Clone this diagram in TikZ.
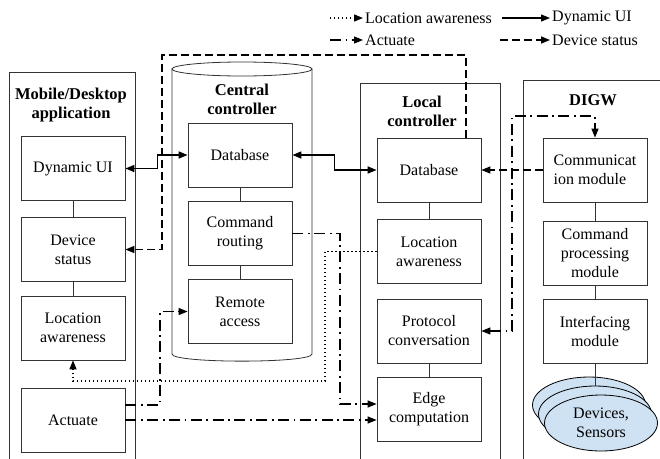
\documentclass[tikz,border=0pt]{standalone}
\usepackage{fontspec}
\setmainfont{Liberation Serif}
\usetikzlibrary{arrows.meta,shapes.geometric,calc}
\begin{document}
\begin{tikzpicture}[x=1pt,y=-1pt,
  font=\fontsize{16}{19}\selectfont,
  >={Triangle[length=9pt,width=7pt]},
  line join=miter,
  box/.style={draw=black!80, line width=0.8pt, minimum width=104pt, minimum height=64pt, inner sep=0pt, align=center},
  panel/.style={draw=black!80, line width=0.8pt},
  ttl/.style={font=\fontsize{16.5}{19}\selectfont\bfseries, align=center, inner sep=0pt},
  link/.style={draw=black!80, line width=0.7pt},
  duiline/.style={line width=1.6pt},
  dsline/.style={line width=1.5pt, dash pattern=on 8pt off 4pt},
  actline/.style={line width=1.3pt, dash pattern=on 11pt off 4.5pt on 1.8pt off 4.5pt},
  locline/.style={line width=1.3pt, dash pattern=on 1.4pt off 2.6pt},
  legtext/.style={anchor=west, inner sep=2pt},
  dev/.style={ellipse, draw=black, line width=0.8pt, fill=devblue, minimum width=113pt, minimum height=56pt, inner sep=0pt, align=center}
]
\definecolor{devblue}{HTML}{CFE2F3}
\useasboundingbox (0,0) rectangle (660,458);
\clip (0,0) rectangle (660,458);

% ---------- panels ----------
\node[panel, minimum width=126pt, minimum height=420pt, anchor=north west, inner sep=0pt] (mobp) at (9,72) {};
\node[panel, minimum width=140pt, minimum height=420pt, anchor=north west, inner sep=0pt] (locp) at (360,83) {};
\node[panel, minimum width=170pt, minimum height=420pt, anchor=north west, inner sep=0pt] (digp) at (523,80) {};

% central controller cylinder
\draw[panel] (172,69) -- (172,354) .. controls (172,363.5) and (312,363.5) .. (312,354) -- (312,69);
\draw[panel] (242,69) ellipse [x radius=70, y radius=7];

% ---------- titles ----------
\node[ttl] (tmob) at (71,105) {Mobile/Desktop\\application};
\node[ttl] (tcen) at (242,99) {Central\\controller};
\node[ttl] (tloc) at (422,111) {Local\\controller};
\node[ttl] (tdig) at (593,100) {DIGW};

% ---------- mobile boxes ----------
\node[box] (dui)  at (73,168.5) {Dynamic UI};
\node[box] (dst)  at (73,249.5) {Device\\status};
\node[box] (mla)  at (73,328)   {Location\\awareness};
\node[box] (actu) at (73,420)   {Actuate};

% ---------- central boxes ----------
\node[box] (cdb) at (240,155)   {Database};
\node[box] (cr)  at (240,233.5) {Command\\routing};
\node[box] (rem) at (240,311.5) {Remote\\access};

% ---------- local boxes ----------
\node[box] (ldb)   at (429,170)   {Database};
\node[box] (lla)   at (429,251.5) {Location\\awareness};
\node[box] (proto) at (429,331)   {Protocol\\conversation};
\node[box] (edge)  at (429,409.5) {Edge\\computation};

% ---------- DIGW boxes ----------
\node[box, align=left] (comm) at (595,170) {Communicat\\ion module};
\node[box] (cpm)  at (595,253) {Command\\processing\\module};
\node[box] (intf) at (595,331) {Interfacing\\module};

\node[dev] (dev1) at (589,405) {};
\node[dev] (dev2) at (595,414) {};
\node[dev] (dev3) at (601,423) {Devices,\\Sensors};

% ---------- internal links ----------
\draw[link] (dui) -- (dst);
\draw[link] (dst) -- (mla);
\draw[link] (cdb) -- (cr);
\draw[link] (cr) -- (rem);
\draw[link] (ldb) -- (lla);
\draw[link] (proto) -- (edge);
\draw[link] (comm) -- (cpm);
\draw[link] (cpm) -- (intf);
\draw[link] (intf.south) -- (dev2.north);

% ---------- coordinates ----------
\coordinate (dsTop) at (162,55);
\coordinate (aTop)  at (512,116);
\coordinate (aCr)   at (340,404);
\coordinate (aRem)  at (160,405);
\coordinate (dLoc)  at (325,381);

% ---------- Dynamic UI (solid) ----------
\draw[duiline,<->] (dui.east) -- ++(32,0) |- (cdb.west);
\draw[duiline,<->] (cdb.east) -- ++(42,0) |- (ldb.west);

% ---------- Device status (dashed) ----------
\draw[dsline,->] ([xshift=37pt]ldb.north) |- (dsTop) |- (dst.east);
\draw[dsline,->] (comm.west) -- (ldb.east);

% ---------- Actuate (dash-dot) ----------
\draw[actline,<->] (proto.east) -| (aTop) -| (comm.north);
\draw[actline,->] (cr.east) -| (aCr) -- (aCr -| edge.west);
\draw[actline,->] ([yshift=15pt]actu.east) -- (aRem) |- (rem.west);
\draw[actline,->] (actu.east) -- (actu.east -| edge.west);

% ---------- Location awareness (dotted) ----------
\draw[locline,->] (lla.west) -| (dLoc) -| (mla.south);

% ---------- legend ----------
\node[legtext] (lg1) at (363,18) {Location awareness};
\node[legtext] (lg2) at (550,18) {Dynamic UI};
\node[legtext] (lg3) at (363,40) {Actuate};
\node[legtext] (lg4) at (550,40) {Device status};
\coordinate (lc1) at (330,18);
\coordinate (lc2) at (502,18);
\coordinate (lc3) at (330,40);
\coordinate (lc4) at (500,40);
\draw[locline,->] (lc1) -- (lg1.west);
\draw[line width=1.2pt,->] (lc2) -- (lg2.west);
\draw[actline,->] (lc3) -- (lg3.west);
\draw[dsline,->] (lc4) -- (lg4.west);
\end{tikzpicture}
\end{document}
